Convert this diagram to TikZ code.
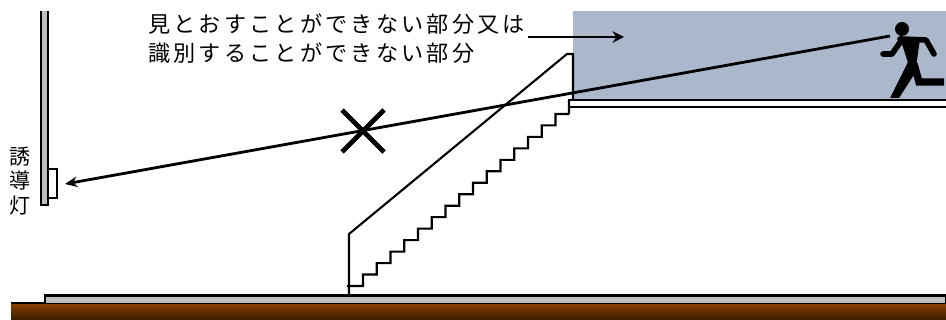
\documentclass[tikz,border=0pt]{standalone}
\usepackage{fontspec}
\setmainfont{Noto Sans CJK JP}
\usetikzlibrary{arrows.meta}
\definecolor{hiddenblue}{HTML}{ABB8CB}
\definecolor{slabgray}{HTML}{BFBFBF}
\definecolor{earthtop}{HTML}{8C4200}
\definecolor{earthbot}{HTML}{3A1B00}
\begin{document}
\begin{tikzpicture}
[x=0.02cm, y=-0.02cm, line width=1.2pt,
labeltext/.style={inner sep=0pt, anchor=north west, align=left, font=\fontsize{12.6pt}{16.5pt}\selectfont\addfontfeature{LetterSpace=14.5}},
sidelabel/.style={inner sep=0pt, align=center, font=\fontsize{12pt}{14pt}\selectfont},
sight/.style={line width=1.6pt, -{Stealth[length=7pt, width=6pt]}},
limb/.style={line width=3.2pt, line cap=round, line join=round}]

\useasboundingbox (0,0) rectangle (946,320);

\fill[hiddenblue] (573,11) rectangle (946,100);

\shade[top color=earthtop, bottom color=earthbot] (11,303) rectangle (946,320);
\draw (11,303) -- (946,303);
\draw[fill=slabgray] (45,303) -- (45,295.5) -- (946,295.5) -- (946,303);

\fill[slabgray] (41,11) rectangle (48,205);
\draw (41,11) -- (41,205) -- (48,205) -- (48,11);
\draw[fill=white] (48,169) rectangle (57,198);

\draw[fill=white] (946,100) -- (569,100) -- (569,107) -- (946,107);
\draw (349,296) -- (349,234) -- (567,54) -- (573,54) -- (573,100);

\draw (347,286) -- (363,286)
\foreach \i in {0,...,14} {
  -- ({363+13.75*\i},{286-11.47*(\i+1)}) -- ({376.75+13.75*\i},{286-11.47*(\i+1)})
} -- (569,114) -- (569,100);

\draw[line width=2.8pt] (342,110) -- (384,152);
\draw[line width=2.8pt] (384,110) -- (342,152);

\node[labeltext] (hiddenpart) at (147,13) {見とおすことができない部分又は\\識別することができない部分};
\node[sidelabel] (exitlight) at (20,181) {誘\\導\\灯};

\coordinate (labelend) at (528,37);
\coordinate (hiddenpoint) at (624,37);
\coordinate (runnereye) at (890,36);
\coordinate (lightpoint) at (65,184);
\draw[line width=1.2pt, -{Stealth[length=6.5pt, width=6.5pt]}] (labelend) -- (hiddenpoint);
\draw[sight] (runnereye) -- (lightpoint);

\fill (902,29) circle (7);
\fill (899,37) -- (920,39) -- (917,60) -- (916,70) -- (909,66) -- (903,47) -- cycle;
\draw[limb] (900,39) -- (926,40) -- (934,54);
\draw[limb] (901,41) -- (892,54) -- (883,54);
\draw[limb, line width=4.2pt, line cap=butt, line join=miter] (914,64) -- (919,82) -- (944,82);
\fill (908,62) -- (917,70) -- (899,98) -- (890,98) -- cycle;
\end{tikzpicture}
\end{document}
